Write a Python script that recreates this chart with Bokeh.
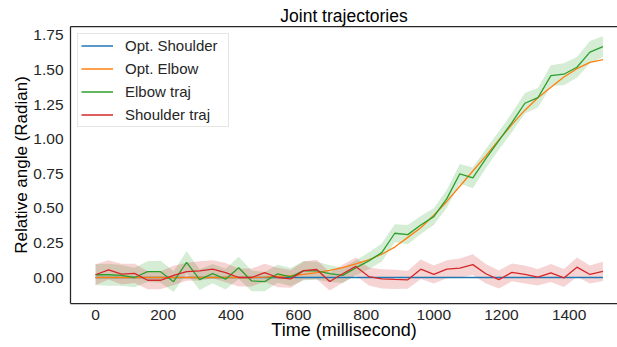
from bokeh.plotting import figure
from bokeh.models import Range1d, FixedTicker, PrintfTickFormatter, LinearAxis
from bokeh.embed import file_html
from bokeh.resources import INLINE

# ---- data ----
time_ms = [0.0, 38.5, 76.9, 115.4, 153.8, 192.3, 230.8, 269.2, 307.7, 346.2,
           384.6, 423.1, 461.5, 500.0, 538.5, 576.9, 615.4, 653.8, 692.3, 730.8,
           769.2, 807.7, 846.2, 884.6, 923.1, 961.5, 1000.0, 1038.5, 1076.9, 1115.4,
           1153.8, 1192.3, 1230.8, 1269.2, 1307.7, 1346.2, 1384.6, 1423.1, 1461.5, 1500.0]

opt_shoulder = [0.0, 0.0, 0.0, 0.0, 0.0, 0.0, 0.0, 0.0, 0.0, 0.0,
                0.0, 0.0, 0.0, 0.0, 0.0, 0.0, 0.0, 0.0, 0.0, 0.0,
                0.0, 0.0, 0.0, 0.0, 0.0, 0.0, 0.0, 0.0, 0.0, 0.0,
                0.0, 0.0, 0.0, 0.0, 0.0, 0.0, 0.0, 0.0, 0.0, 0.0]

opt_elbow = [0.0, 0.0, 0.0, 0.0, 0.0, 0.0, 0.0, 0.0, 0.0, 0.0,
             0.0, 0.0, 0.0, 0.003, 0.008, 0.013, 0.022, 0.035, 0.052, 0.072,
             0.098, 0.128, 0.168, 0.22, 0.29, 0.36, 0.45, 0.55, 0.66, 0.77,
             0.88, 0.995, 1.105, 1.21, 1.30, 1.375, 1.45, 1.51, 1.555, 1.575]

elbow_traj = [0.02, 0.02, 0.015, 0.0, 0.042, 0.042, -0.03, 0.11, -0.016, 0.028,
              -0.012, 0.07, -0.025, -0.03, 0.027, 0.004, 0.05, 0.048, 0.028, 0.015,
              0.07, 0.12, 0.18, 0.32, 0.31, 0.38, 0.44, 0.57, 0.75, 0.72,
              0.86, 0.99, 1.12, 1.26, 1.30, 1.46, 1.47, 1.52, 1.63, 1.67]

shoulder_traj = [0.02, 0.055, 0.025, 0.03, -0.02, -0.02, 0.015, 0.042, 0.048, 0.06,
                 0.035, 0.0, 0.0, 0.035, 0.0, -0.01, 0.05, 0.058, -0.029, 0.027,
                 0.08, 0.007, -0.01, -0.014, -0.017, 0.06, 0.022, 0.06, 0.068, 0.093,
                 0.027, -0.015, 0.037, 0.022, 0.002, 0.033, -0.003, 0.075, 0.022, 0.044]

elbow_ci = [0.075, 0.08, 0.075, 0.07, 0.075, 0.08, 0.075, 0.08, 0.075, 0.07,
            0.075, 0.08, 0.075, 0.07, 0.065, 0.065, 0.07, 0.065, 0.06, 0.055,
            0.055, 0.06, 0.065, 0.065, 0.07, 0.065, 0.06, 0.065, 0.07, 0.075,
            0.07, 0.065, 0.07, 0.075, 0.07, 0.075, 0.08, 0.075, 0.08, 0.075]

shoulder_ci = [0.075, 0.07, 0.075, 0.07, 0.065, 0.065, 0.07, 0.065, 0.07, 0.065,
               0.07, 0.065, 0.065, 0.065, 0.07, 0.065, 0.065, 0.07, 0.065, 0.065,
               0.065, 0.065, 0.07, 0.07, 0.065, 0.07, 0.065, 0.065, 0.07, 0.075,
               0.07, 0.065, 0.065, 0.065, 0.06, 0.065, 0.065, 0.07, 0.065, 0.07]

x_ticks = [0, 200, 400, 600, 800, 1000, 1200, 1400]
y_ticks = [0.0, 0.25, 0.5, 0.75, 1.0, 1.25, 1.5, 1.75]

title_text = "Joint trajectories"
x_label = "Time (millisecond)"
y_label = "Relative angle (Radian)"

# ---- styling ----
FONT = "Liberation Sans"
TXT = "#262626"
BLUE, ORANGE, GREEN, RED = "#1f77b4", "#ff7f0e", "#2ca02c", "#d62728"

p = figure(width=617, height=347, output_backend="svg", toolbar_location=None,
           x_range=Range1d(-74, 1543), y_range=Range1d(-0.188, 1.815),
           min_border_left=70, min_border_right=0, min_border_bottom=44,
           min_border_top=26, title=title_text)

p.outline_line_color = None
p.background_fill_color = "white"
p.border_fill_color = "white"
p.xgrid.visible = False
p.ygrid.visible = False

p.title.text_font = FONT
p.title.text_font_size = "17.5px"
p.title.text_font_style = "normal"
p.title.text_color = "black"
p.title.align = "center"
p.title.standoff = 1

for ax in (p.xaxis[0], p.yaxis[0]):
    ax.axis_line_color = TXT
    ax.axis_line_width = 1.25
    ax.major_tick_line_color = None
    ax.minor_tick_line_color = None
    ax.major_label_text_font = FONT
    ax.major_label_text_font_size = "15.5px"
    ax.major_label_text_color = TXT
    ax.axis_label_text_font = FONT
    ax.axis_label_text_font_size = "18px"
    ax.axis_label_text_font_style = "normal"
    ax.axis_label_text_color = "black"

p.yaxis.axis_label_text_font_size = "17px"
p.xaxis.ticker = FixedTicker(ticks=x_ticks)
p.yaxis.ticker = FixedTicker(ticks=y_ticks)
p.yaxis.formatter = PrintfTickFormatter(format="%.2f")
p.xaxis.axis_label = x_label
p.yaxis.axis_label = y_label
p.xaxis.major_label_standoff = 0
p.yaxis.major_label_standoff = 1
p.xaxis.axis_label_standoff = -3
p.yaxis.axis_label_standoff = -1

top_axis = LinearAxis(ticker=FixedTicker(ticks=[]), axis_line_color=TXT,
                      axis_line_width=1.25, major_tick_line_color=None,
                      minor_tick_line_color=None, major_label_text_font_size="0px")
p.add_layout(top_axis, "above")

# bands
elbow_lo = [v - c for v, c in zip(elbow_traj, elbow_ci)]
elbow_hi = [v + c for v, c in zip(elbow_traj, elbow_ci)]
sh_lo = [v - c for v, c in zip(shoulder_traj, shoulder_ci)]
sh_hi = [v + c for v, c in zip(shoulder_traj, shoulder_ci)]
p.varea(x=time_ms, y1=elbow_lo, y2=elbow_hi, fill_color=GREEN, fill_alpha=0.2)
p.varea(x=time_ms, y1=sh_lo, y2=sh_hi, fill_color=RED, fill_alpha=0.2)

LW = 1.3
p.line(time_ms, opt_shoulder, line_color=BLUE, line_width=LW, legend_label="Opt. Shoulder")
p.line(time_ms, opt_elbow, line_color=ORANGE, line_width=LW, legend_label="Opt. Elbow")
p.line(time_ms, elbow_traj, line_color=GREEN, line_width=LW, legend_label="Elbow traj")
p.line(time_ms, shoulder_traj, line_color=RED, line_width=LW, legend_label="Shoulder traj")

lg = p.legend[0]
lg.location = "top_left"
lg.margin = 7
lg.padding = 3
lg.spacing = 6
lg.glyph_width = 32
lg.glyph_height = 17
lg.label_height = 17
lg.label_width = 100
lg.label_standoff = 12
lg.label_text_font = FONT
lg.label_text_font_size = "15px"
lg.label_text_color = TXT
lg.border_line_color = "#cccccc"
lg.border_line_width = 1
lg.background_fill_color = "white"
lg.background_fill_alpha = 0.8

open("out.html", "w").write(file_html(p, INLINE))
